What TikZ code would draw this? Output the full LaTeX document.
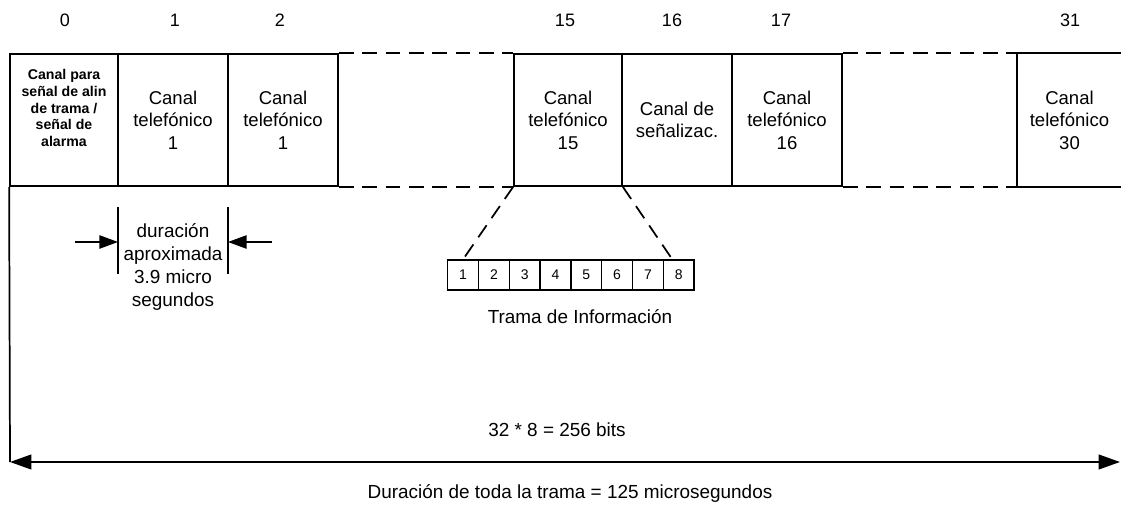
\documentclass[tikz,border=0pt]{standalone}
\usepackage{fontspec}
\setmainfont{Liberation Sans}
\usetikzlibrary{arrows.meta,calc}
\begin{document}
\begin{tikzpicture}[x=0.75pt,y=-0.75pt,
  frame/.style={line width=1.3pt},
  box/.style={draw,line width=1.3pt,minimum width=82.5pt,minimum height=99pt,inner sep=0pt,align=center,font=\fontsize{13.9}{16.9}\selectfont},
  boldtxt/.style={align=center,inner sep=0pt,font=\fontsize{10.6}{12.6}\selectfont\bfseries},
  txt/.style={align=center,inner sep=0pt,font=\fontsize{14.2}{17.2}\selectfont},
  num/.style={inner sep=0pt,font=\fontsize{13.5}{16}\selectfont},
  bit/.style={draw,line width=1pt,minimum width=23.1pt,minimum height=22.5pt,inner sep=0pt,font=\fontsize{10.5}{12}\selectfont},
  dsh/.style={line width=1.3pt,dash pattern=on 11pt off 6.5pt},
  bigarrow/.style={line width=1.5pt,{Triangle[length=16pt,width=11pt]}-{Triangle[length=16pt,width=11pt]}},
  smallarrow/.style={line width=1.2pt,-{Triangle[length=14pt,width=10pt]}}]
\useasboundingbox (0,0) rectangle (1121,505);
% top numbers
\node[num] (n0) at (65,20) {0};
\node[num] (n1) at (175,20) {1};
\node[num] (n2) at (280,20) {2};
\node[num] (n15) at (565,20) {15};
\node[num] (n16) at (672,20) {16};
\node[num] (n17) at (781,20) {17};
\node[num] (n31) at (1070,20) {31};
% channel boxes
\node[box,minimum width=81pt] (c0) at (64,120) {};
\node[boldtxt] (t0) at (64,108) {Canal para\\señal de alin\\de trama /\\señal de\\alarma};
\node[box] (c1) at (173,120) {Canal\\telefónico\\1};
\node[box] (c2) at (283,120) {Canal\\telefónico\\1};
\node[box,minimum width=81pt] (c15) at (568,120) {Canal\\telefónico\\15};
\node[box] (c16) at (677,120) {Canal de\\señalizac.};
\node[box] (c17) at (787,120) {Canal\\telefónico\\16};
\node[box,draw=none,minimum width=77.25pt] (c31) at (1069.5,120) {Canal\\telefónico\\30};
\draw[frame] (c31.north east) -- (c31.north west) -- (c31.south west) -- (c31.south east);
% dashed continuation
\draw[dsh] (c2.north east) -- (c15.north west);
\draw[dsh] (c2.south east) -- (c15.south west);
\draw[dsh] (c17.north east) -- (c31.north west);
\draw[dsh] (c17.south east) -- (c31.south west);
% bits
\foreach \i in {1,...,8} \node[bit] (b\i) at ({463.1+30.8*(\i-1)},275) {\i};
\draw[dsh] (c15.south west) -- (b1.north);
\draw[dsh] (c15.south east) -- ($(b8.north west)!0.3!(b8.north east)$);
\node[txt] (trama) at (580,317) {Trama de Información};
% duration of channel
\coordinate (v1t) at (118,207); \coordinate (v1b) at (118,274);
\coordinate (v2t) at (228,207); \coordinate (v2b) at (228,274);
\draw[frame] (v1t) -- (v1b);
\draw[frame] (v2t) -- (v2b);
\coordinate (a1s) at (75,242); \coordinate (a1e) at (118,242);
\coordinate (a2s) at (272,242); \coordinate (a2e) at (228,242);
\draw[smallarrow] (a1s) -- (a1e);
\draw[smallarrow] (a2s) -- (a2e);
\node[txt] (dur) at (173,267) {duración\\aproximada\\3.9 micro\\segundos};
% total
\coordinate (le) at (10,462);
\coordinate (re) at (1120,462);
\draw[frame] (c0.south west) -- (le);
\draw[bigarrow] (le) -- (re);
\node[txt] (bits) at (557,430) {32 * 8 = 256 bits};
\node[txt] (total) at (570,493) {Duración de toda la trama = 125 microsegundos};
\end{tikzpicture}
\end{document}
